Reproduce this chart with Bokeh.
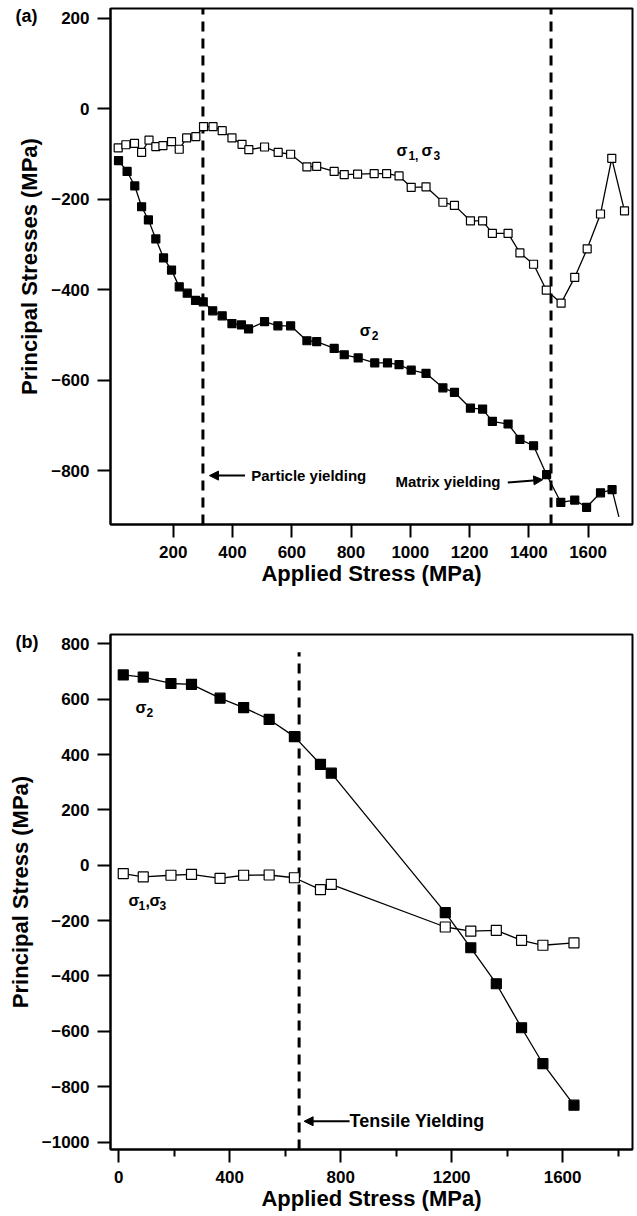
from bokeh.plotting import figure
from bokeh.layouts import column
from bokeh.models import (Range1d, FixedTicker, Label, Arrow, NormalHead,
                          ColumnDataSource, Title)
from bokeh.embed import file_html
from bokeh.resources import INLINE

FONT = "Liberation Sans"

# ---------------- panel (a): principal stresses vs applied stress ----------------
a_s13_x = [14, 40, 69, 93, 118, 141, 165, 194, 220, 245, 276, 302, 334, 365, 398,
           432, 455, 508, 554, 596, 651, 684, 743, 777, 822, 878, 920, 962, 1003,
           1053, 1110, 1149, 1203, 1244, 1277, 1330, 1370, 1416, 1459, 1509, 1555,
           1597, 1642, 1680, 1723]
a_s13_y = [-87, -80, -77, -97, -70, -84, -82, -73, -90, -65, -62, -40, -40, -49, -65,
           -79, -91, -85, -97, -101, -129, -128, -139, -146, -145, -144, -144, -149,
           -174, -173, -207, -214, -248, -248, -276, -276, -319, -344, -401, -430,
           -373, -310, -233, -110, -226]

a_s2_x = [15, 44, 70, 93, 116, 141, 167, 194, 220, 247, 275, 301, 333, 365, 398,
          430, 454, 508, 553, 596, 651, 684, 743, 777, 824, 880, 923, 962, 1003,
          1053, 1110, 1149, 1203, 1244, 1277, 1330, 1370, 1416, 1460, 1508, 1555,
          1595, 1642, 1681]
a_s2_y = [-115, -139, -171, -217, -246, -288, -330, -357, -394, -408, -424, -427,
          -447, -458, -475, -478, -487, -471, -480, -480, -513, -515, -530, -544,
          -551, -562, -562, -566, -578, -585, -617, -627, -662, -664, -691, -697,
          -731, -745, -809, -870, -865, -881, -849, -842]
# last segment of the sigma-2 trace runs past the final marker
a_s2_tail_x = [1681, 1704]
a_s2_tail_y = [-842, -902]

a_particle_yield = 300
a_matrix_yield = 1475
a_xticks = [200, 400, 600, 800, 1000, 1200, 1400, 1600]
a_yticks = [-800, -600, -400, -200, 0, 200]

# ---------------- panel (b) ----------------
b_x = [16, 88, 188, 262, 365, 450, 542, 633, 727, 766, 1177, 1269, 1361, 1452,
       1529, 1641]
b_s2_y = [688, 680, 657, 654, 604, 570, 527, 465, 365, 333, -171, -298, -428, -587,
          -717, -867]
b_s13_y = [-30, -42, -36, -33, -47, -36, -35, -45, -88, -69, -223, -238, -235,
           -271, -289, -280]

b_tensile_yield = 650
b_yield_line_top = 770
b_xticks = [0, 400, 800, 1200, 1600]
b_xminor = [200, 600, 1000, 1400, 1800]
b_yticks = [-1000, -800, -600, -400, -200, 0, 200, 400, 600, 800]


def style_axes(p, xticks, yticks, xminor=None):
    p.outline_line_color = "black"
    p.outline_line_width = 2
    p.xgrid.visible = False
    p.ygrid.visible = False
    p.background_fill_color = "white"
    p.border_fill_color = "white"
    p.xaxis.ticker = FixedTicker(ticks=xticks, minor_ticks=xminor or [])
    p.yaxis.ticker = FixedTicker(ticks=yticks)
    for ax in (p.xaxis, p.yaxis):
        ax.axis_line_width = 2
        ax.axis_line_color = "black"
        ax.major_tick_line_width = 2
        ax.major_tick_in = 0
        ax.major_tick_out = 13
        ax.minor_tick_line_width = 2
        ax.minor_tick_in = 0
        ax.minor_tick_out = 7 if xminor else 0
        ax.major_label_text_font = FONT
        ax.major_label_text_font_style = "bold"
        ax.major_label_text_font_size = "17px"
        ax.major_label_text_color = "black"
        ax.axis_label_text_font = FONT
        ax.axis_label_text_font_style = "bold"
        ax.axis_label_text_font_size = "22px"
        ax.axis_label_text_color = "black"
    p.yaxis.minor_tick_out = 0
    p.xaxis.major_label_standoff = 8
    p.yaxis.major_label_standoff = 8
    p.xaxis.axis_label_standoff = 0
    p.yaxis.axis_label_standoff = 6


def txt(p, x, y, s, size="14px", style="bold", xo=0, yo=0, baseline="alphabetic"):
    p.add_layout(Label(x=x, y=y, text=s, x_offset=xo, y_offset=yo,
                       text_font=FONT, text_font_style=style,
                       text_font_size=size, text_color="black",
                       text_baseline=baseline))


def panel_tag(p, s, shift_left, drop):
    # panel tag drawn as a left-aligned title pulled down beside the top y tick
    p.add_layout(Title(text=s, align="left", vertical_align="bottom",
                       offset=-shift_left, standoff=-drop,
                       text_font=FONT, text_font_style="bold",
                       text_font_size="18px", text_color="black"), "above")


def sigma_group(p, x, y, pieces, size="16px", sub_size="12px"):
    # pieces: (text, x offset in px, is_subscript)
    for s, xo, sub in pieces:
        if sub:
            txt(p, x, y, s, size=sub_size, xo=xo, yo=-5)
        else:
            txt(p, x, y, s, size=size, xo=xo)


# ---------------- figure (a) ----------------
pa = figure(width=637, height=600, output_backend="svg", toolbar_location=None,
            x_range=Range1d(-12, 1750), y_range=Range1d(-919, 221),
            min_border_left=108, min_border_right=5, min_border_top=8,
            min_border_bottom=76)
style_axes(pa, a_xticks, a_yticks)
pa.xaxis.axis_label = "Applied Stress (MPa)"
pa.yaxis.axis_label = "Principal Stresses (MPa)"

for xv in (a_particle_yield, a_matrix_yield):
    pa.segment(x0=[xv], y0=[-919], x1=[xv], y1=[221], line_color="black",
               line_width=3, line_dash="10 7")

src_a13 = ColumnDataSource(dict(x=a_s13_x, y=a_s13_y))
src_a2 = ColumnDataSource(dict(x=a_s2_x, y=a_s2_y))
pa.line("x", "y", source=src_a13, line_color="black", line_width=1.3)
pa.line("x", "y", source=src_a2, line_color="black", line_width=1.3)
pa.line(a_s2_tail_x, a_s2_tail_y, line_color="black", line_width=1.3)
pa.scatter("x", "y", source=src_a13, marker="square", size=8, fill_color="white",
           line_color="black", line_width=1.2)
pa.scatter("x", "y", source=src_a2, marker="square", size=8, fill_color="black",
           line_color="black", line_width=1.2)

sigma_group(pa, 953, -93, [("σ", 0, False), ("1,", 12, True),
                           ("σ", 25, False), ("3", 37, True)])
sigma_group(pa, 829, -491, [("σ", 0, False), ("2", 12, True)])

pa.add_layout(Arrow(end=NormalHead(size=9, fill_color="black", line_color="black"),
                    x_start=442, y_start=-811, x_end=322, y_end=-811,
                    line_color="black", line_width=2))
txt(pa, 463, -811, "Particle yielding", size="15px", baseline="middle")
txt(pa, 950, -824, "Matrix yielding", size="15px", baseline="middle")
pa.add_layout(Arrow(end=NormalHead(size=9, fill_color="black", line_color="black"),
                    x_start=1329, y_start=-826, x_end=1447, y_end=-820,
                    line_color="black", line_width=2))
panel_tag(pa, "(a)", 95, 34)

# ---------------- figure (b) ----------------
pb = figure(width=637, height=616, output_backend="svg", toolbar_location=None,
            x_range=Range1d(-30, 1852), y_range=Range1d(-1027, 834),
            min_border_left=110, min_border_right=3, min_border_top=34,
            min_border_bottom=67)
style_axes(pb, b_xticks, b_yticks, xminor=b_xminor)
pb.xaxis.axis_label = "Applied Stress (MPa)"
pb.yaxis.axis_label = "Principal Stress (MPa)"

pb.segment(x0=[b_tensile_yield], y0=[-1027], x1=[b_tensile_yield],
           y1=[b_yield_line_top], line_color="black", line_width=3, line_dash="10 7")

src_b = ColumnDataSource(dict(x=b_x, s2=b_s2_y, s13=b_s13_y))
pb.line("x", "s2", source=src_b, line_color="black", line_width=1.3)
pb.line("x", "s13", source=src_b, line_color="black", line_width=1.3)
pb.scatter("x", "s2", source=src_b, marker="square", size=10, fill_color="black",
           line_color="black", line_width=1.2)
pb.scatter("x", "s13", source=src_b, marker="square", size=10, fill_color="white",
           line_color="black", line_width=1.2)

sigma_group(pb, 60, 572, [("σ", 0, False), ("2", 11, True)])
sigma_group(pb, 35, -129, [("σ", 0, False), ("1", 10, True), (",", 17, False),
                           ("σ", 21, False), ("3", 31, True)])

pb.add_layout(Arrow(end=NormalHead(size=9, fill_color="black", line_color="black"),
                    x_start=832, y_start=-925, x_end=668, y_end=-925,
                    line_color="black", line_width=2))
txt(pb, 832, -925, "Tensile Yielding", size="18px", baseline="middle")
panel_tag(pb, "(b)", 95, 34)

layout = column(pa, pb, spacing=0)
open("out.html", "w").write(file_html(layout, INLINE))
